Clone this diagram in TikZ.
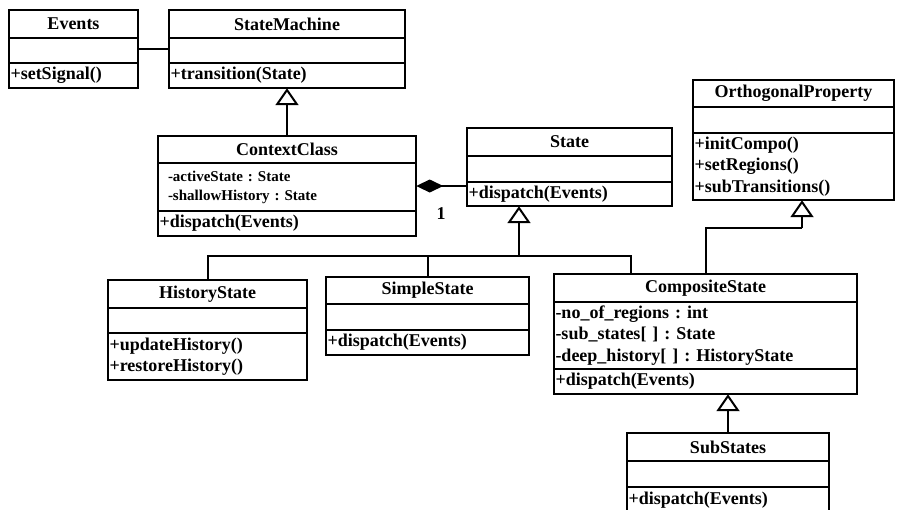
\documentclass[tikz,border=0pt]{standalone}
\usepackage{fontspec}
\setmainfont{Liberation Serif}
\usetikzlibrary{arrows.meta,positioning,fit,calc}

\begin{document}
\frenchspacing
\begin{tikzpicture}[
    x=1pt, y=-1pt,
    namebox/.style={draw, line width=1.6pt, outer sep=0pt, inner sep=0pt,
                font=\bfseries\fontsize{18}{21}\selectfont, align=center},
    partbox/.style={draw, line width=1.6pt, outer sep=0pt, inner xsep=1.5pt,
                inner ysep=0pt, font=\bfseries\fontsize{18}{21.5}\selectfont, align=left},
    link/.style={line width=2pt},
    inherit/.style={-{Triangle[open, length=17pt, width=23pt]}, line width=2pt},
    compose/.style={{Diamond[length=27pt, width=13pt]}-, line width=2pt}
  ]
    \useasboundingbox (0,0) rectangle (900,509);

    % Top row
    \node[namebox, minimum width=129pt, minimum height=28pt, anchor=north west] (events-n) at (9,10) {Events};
    \node[partbox, text width=126pt, minimum height=25pt, below=0pt of events-n] (events-a) {};
    \node[partbox, text width=126pt, minimum height=25pt, below=0pt of events-a] (events-o) {+setSignal()};
    \node[fit=(events-n)(events-o), inner sep=0pt] (events) {};

    \node[namebox, minimum width=236pt, minimum height=28pt, anchor=north west] (sm-n) at (169,10) {StateMachine};
    \node[partbox, text width=233pt, minimum height=25pt, below=0pt of sm-n] (sm-a) {};
    \node[partbox, text width=233pt, minimum height=25pt, below=0pt of sm-a] (sm-o) {+transition(State)};
    \node[fit=(sm-n)(sm-o), inner sep=0pt] (sm) {};

    % Context and the base state
    \node[namebox, minimum width=258pt, minimum height=27pt, anchor=north west] (context-n) at (158,136) {ContextClass};
    \node[partbox, text width=238pt, minimum height=48pt, inner xsep=10pt,
          font=\bfseries\fontsize{15}{19}\selectfont, below=0pt of context-n] (context-a)
      {-activeState : State\\-shallowHistory : State};
    \node[partbox, text width=255pt, minimum height=25pt, below=0pt of context-a] (context-o) {+dispatch(Events)};
    \node[fit=(context-n)(context-o), inner sep=0pt] (context) {};

    \node[namebox, minimum width=205pt, minimum height=28pt, anchor=north west] (state-n) at (467,128) {State};
    \node[partbox, text width=202pt, minimum height=26pt, below=0pt of state-n] (state-a) {};
    \node[partbox, text width=202pt, minimum height=24pt, below=0pt of state-a] (state-o) {+dispatch(Events)};
    \node[fit=(state-n)(state-o), inner sep=0pt] (state) {};

    \node[namebox, minimum width=201pt, minimum height=27pt, anchor=north west] (ortho-n) at (693,80) {OrthogonalProperty};
    \node[partbox, text width=198pt, minimum height=26pt, below=0pt of ortho-n] (ortho-a) {};
    \node[partbox, text width=198pt, minimum height=67pt, below=0pt of ortho-a] (ortho-o)
      {+initCompo()\\+setRegions()\\+subTransitions()};
    \node[fit=(ortho-n)(ortho-o), inner sep=0pt] (ortho) {};

    % Concrete states
    \node[namebox, minimum width=199pt, minimum height=28pt, anchor=north west] (history-n) at (108,280) {HistoryState};
    \node[partbox, text width=196pt, minimum height=25pt, below=0pt of history-n] (history-a) {};
    \node[partbox, text width=196pt, minimum height=47pt, below=0pt of history-a] (history-o)
      {+updateHistory()\\+restoreHistory()};
    \node[fit=(history-n)(history-o), inner sep=0pt] (history) {};

    \node[namebox, minimum width=203pt, minimum height=27pt, anchor=north west] (simple-n) at (326,277) {SimpleState};
    \node[partbox, text width=200pt, minimum height=26pt, below=0pt of simple-n] (simple-a) {};
    \node[partbox, text width=200pt, minimum height=25pt, below=0pt of simple-a] (simple-o) {+dispatch(Events)};
    \node[fit=(simple-n)(simple-o), inner sep=0pt] (simple) {};

    \node[namebox, minimum width=303pt, minimum height=28pt, anchor=north west] (composite-n) at (554,274) {CompositeState};
    \node[partbox, text width=300pt, minimum height=67pt, below=0pt of composite-n] (composite-a)
      {-no\_of\_regions : int\\-sub\_states[ ] : State\\-deep\_history[ ] : HistoryState};
    \node[partbox, text width=300pt, minimum height=25pt, below=0pt of composite-a] (composite-o) {+dispatch(Events)};
    \node[fit=(composite-n)(composite-o), inner sep=0pt] (composite) {};

    \node[namebox, minimum width=202pt, minimum height=28pt, anchor=north west] (sub-n) at (627,433) {SubStates};
    \node[partbox, text width=199pt, minimum height=26pt, below=0pt of sub-n] (sub-a) {};
    \node[partbox, text width=199pt, minimum height=27pt, below=0pt of sub-a] (sub-o) {+dispatch(Events)};
    \node[fit=(sub-n)(sub-o), inner sep=0pt] (sub) {};

    % Bend points
    \coordinate (hub) at (519,256);
    \coordinate (orthobend) at (802,228);

    % Associations
    \draw[link] (events) -- (sm);
    \draw[compose] (context.east) -- (context.east -| state.west);
    \node[font=\bfseries\fontsize{18}{21}\selectfont] (mult) at (441,214) {1};

    % Generalisations
    \draw[inherit] (context.north) -- (sm.south);
    \draw[inherit] (hub) -- (hub |- state.south);
    \draw[link] (history.north) |- (hub) -| ($(composite.north west)+(77,0)$);
    \draw[link] (simple.north) -- (simple.north |- hub);
    \draw[inherit] (orthobend) -- (orthobend |- ortho.south);
    \draw[link] (orthobend) -| (composite.north);
    \draw[inherit] (sub.north) -- (sub.north |- composite.south);
  \end{tikzpicture}
\end{document}
